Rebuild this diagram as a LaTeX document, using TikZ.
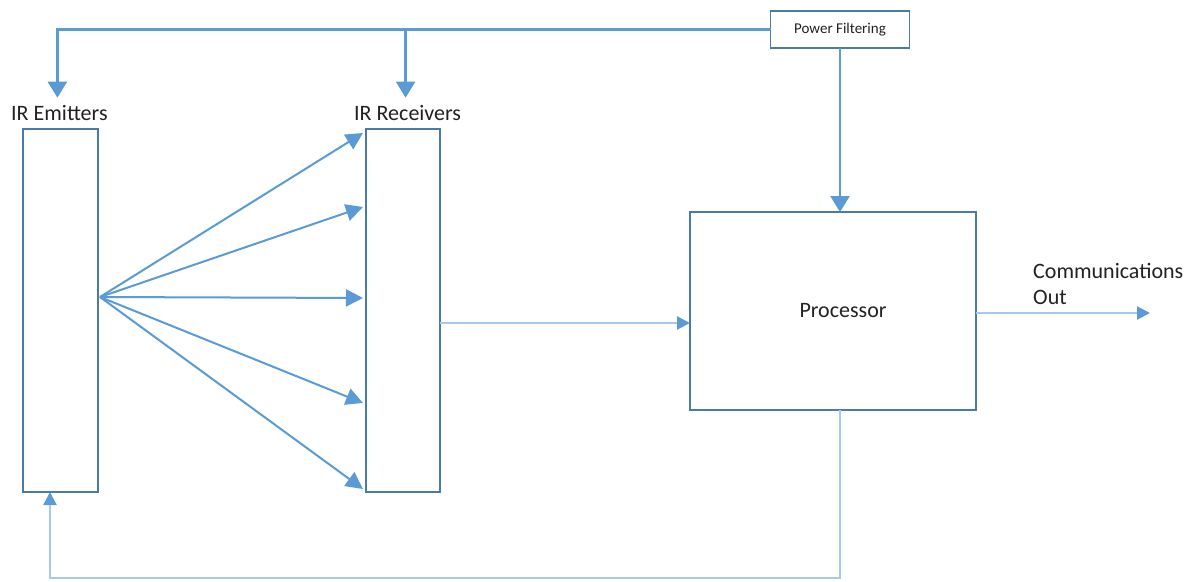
\documentclass[tikz,border=0pt]{standalone}
\usepackage{fontspec}
\setmainfont{Carlito}
\usetikzlibrary{arrows.meta,calc}
\definecolor{edgeblue}{HTML}{4A7AA8}
\definecolor{linkblue}{HTML}{5B9BD5}
\definecolor{paleblue}{HTML}{A6C8EA}
\definecolor{inkgray}{HTML}{222222}

\begin{document}
\begin{tikzpicture}[x=1pt,y=-1pt,
  unit/.style={draw=edgeblue, line width=2.2pt, inner sep=0pt, outer sep=0pt},
  lbl/.style={inner sep=0pt, text=inkgray, font=\fontsize{22}{26}\selectfont},
  beam/.style={draw=linkblue, line width=2pt, -{Triangle[length=17pt,width=17pt]}},
  feed/.style={draw=linkblue, line width=2.4pt, -{Triangle[length=16pt,width=19pt]}},
  weak/.style={draw=paleblue, line width=2.2pt, -{Triangle[length=13pt,width=13pt,color=linkblue]}},
]
\useasboundingbox (0,0) rectangle (1194,581);
\fill[white] (0,0) rectangle (1194,581);

% blocks
\node[unit, minimum width=75pt, minimum height=363pt] (em) at (60.5,310.5) {};
\node[unit, minimum width=74pt, minimum height=363pt] (rcv) at (403,310.5) {};
\node[unit, minimum width=286pt, minimum height=198pt] (proc) at (833,311) {};
\node[unit, line width=1.8pt, minimum width=139pt, minimum height=37pt,
      text=inkgray, font=\fontsize{15}{18}\selectfont] (pf) at (840,29.5) {Power Filtering};

% labels
\node[lbl, anchor=base west] (emlab) at (11,120) {IR Emitters};
\node[lbl, anchor=base west] (rcvlab) at (354,120) {IR Receivers};
\node[lbl] (proclab) at (843,311) {Processor};
\node[lbl, anchor=north west, align=left] (comm) at (1033,263) {Communications\\Out};

% power distribution
\draw[feed] (pf.west) -| ($(emlab.north)+(-2,-7)$);
\draw[feed] ($(rcvlab.north |- pf.west)+(-2,0)$) -- ($(rcvlab.north)+(-2,-7)$);
\draw[feed] (pf.south) -- (pf.south |- proc.north);

% infrared beams
\coordinate (src) at ($(em.east)+(2,-13.5)$);
\foreach \ty in {133,207,298,403,489}
  \draw[beam] (src) -- ($(rcv.west |- 0,\ty)+(-3,0)$);

% signal paths
\coordinate (outend) at (1150,313);
\coordinate (fbcorner) at (50,578);
\draw[weak] ($(rcv.east)+(0,12.5)$) -- ($(proc.west)+(0,12)$);
\draw[weak] ($(proc.east)+(0,2)$) -- (outend);
\draw[weak] (proc.south -| pf.south) |- (fbcorner) -- (fbcorner |- em.south);
\end{tikzpicture}
\end{document}
